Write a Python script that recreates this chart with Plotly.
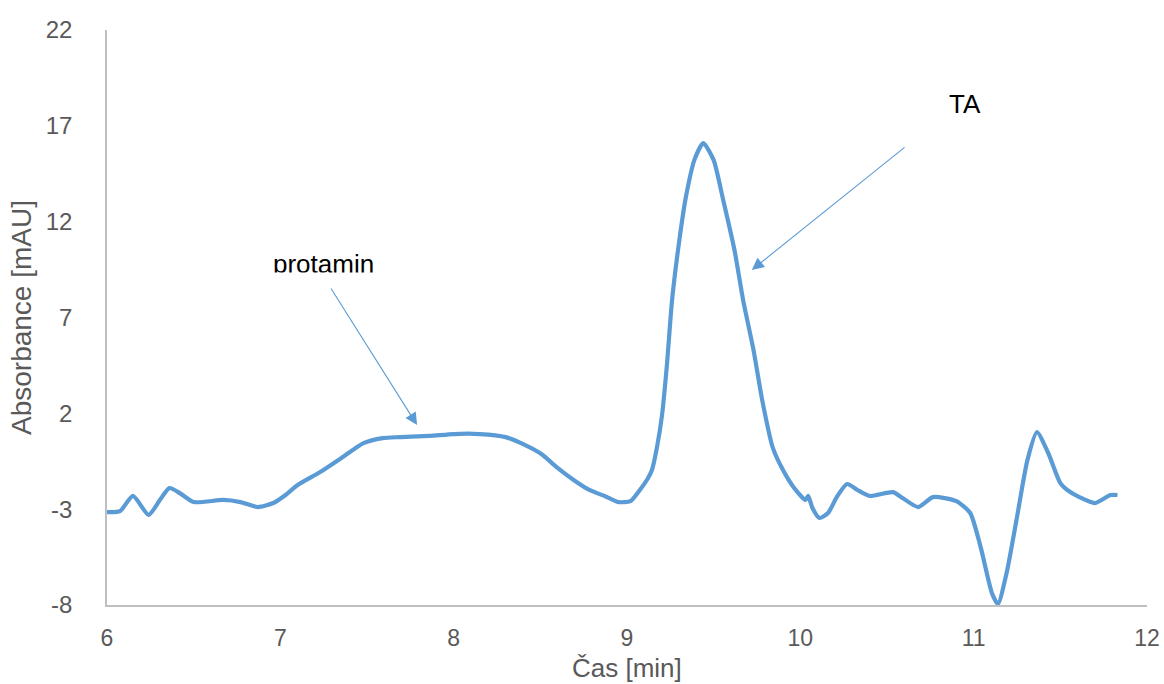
import plotly.graph_objects as go

# Chromatogram trace: retention time [min] vs absorbance [mAU]
time_min = [
    6.000, 6.075, 6.150, 6.240, 6.305, 6.360, 6.420, 6.500, 6.670, 6.770,
    6.870, 6.960, 7.030, 7.100, 7.230, 7.360, 7.480, 7.590, 7.690, 7.860,
    8.000, 8.150, 8.300, 8.410, 8.510, 8.590, 8.690, 8.780, 8.880, 8.950,
    9.020, 9.070, 9.120, 9.144, 9.173, 9.202, 9.230, 9.260, 9.300, 9.340,
    9.390, 9.440, 9.500, 9.555, 9.620, 9.670, 9.730, 9.780, 9.840, 9.900,
    9.960, 10.030, 10.045, 10.070, 10.110, 10.160, 10.210, 10.270, 10.330, 10.400,
    10.535, 10.590, 10.680, 10.765, 10.900, 10.980, 11.040, 11.105, 11.140, 11.190,
    11.250, 11.310, 11.365, 11.430, 11.500, 11.540, 11.610, 11.700, 11.790, 11.830,
]
absorbance = [
    -3.15, -3.10, -2.31, -3.30, -2.52, -1.90, -2.16, -2.63, -2.52, -2.63,
    -2.89, -2.68, -2.26, -1.74, -1.06, -0.28, 0.45, 0.71, 0.76, 0.82,
    0.92, 0.92, 0.76, 0.35, -0.15, -0.78, -1.46, -1.98, -2.35, -2.63,
    -2.58, -2.05, -1.40, -0.96, 0.24, 1.90, 4.50, 7.91, 10.90, 13.30,
    15.25, 16.10, 15.21, 13.13, 10.52, 7.91, 5.30, 2.69, 0.24, -0.96,
    -1.84, -2.52, -2.30, -2.94, -3.46, -3.20, -2.37, -1.69, -2.00, -2.31,
    -2.11, -2.42, -2.89, -2.37, -2.58, -3.20, -4.97, -7.37, -7.95, -6.33,
    -3.41, -0.44, 1.02, -0.07, -1.64, -2.00, -2.37, -2.68, -2.26, -2.26,
]

# Axis ticks
x_ticks = [6, 7, 8, 9, 10, 11, 12]
y_ticks = [-8, -3, 2, 7, 12, 17, 22]

# Peak labels: text, text position, arrow head (x, y) and arrow tail (x, y)
peak_labels = ["protamin", "TA"]
label_x = [7.249, 10.950]
label_y = [9.790, 18.130]
head_x = [7.789, 9.720]
head_y = [1.390, 9.480]
tail_x = [7.287, 10.610]
tail_y = [8.590, 15.940]

blue = "#5B9BD5"
grey_text = "#595959"
axis_grey = "#BFBFBF"
font_family = "Liberation Sans, Arial, sans-serif"

fig = go.Figure()
fig.add_trace(go.Scatter(
    x=time_min, y=absorbance, mode="lines",
    line=dict(color=blue, width=4.2, shape="spline", smoothing=0.6),
    showlegend=False, hoverinfo="skip",
))

for text, lx, ly, hx, hy, tx, ty in zip(peak_labels, label_x, label_y, head_x, head_y, tail_x, tail_y):
    fig.add_annotation(
        x=hx, y=hy, ax=tx, ay=ty, xref="x", yref="y", axref="x", ayref="y",
        showarrow=True, arrowhead=2, arrowsize=2.2, arrowwidth=1.1, arrowcolor=blue,
        text="",
    )
    fig.add_annotation(
        x=lx, y=ly, xref="x", yref="y", text=text, showarrow=False,
        font=dict(family=font_family, size=26, color="#000000"),
        xanchor="center", yanchor="middle",
    )

# The "protamin" text box is cut off just below its baseline
fig.add_annotation(
    x=7.249, y=9.37, xref="x", yref="y", text=" ", showarrow=False,
    width=130, height=9, bgcolor="white", borderpad=0,
    xanchor="center", yanchor="top",
)

# X axis title, placed below the tick labels
fig.add_annotation(
    x=0.5, y=-0.1096, xref="paper", yref="paper", text="Čas [min]", showarrow=False,
    font=dict(family=font_family, size=26, color=grey_text),
    xanchor="center", yanchor="middle", borderpad=0,
)

fig.update_layout(
    width=1164, height=684,
    margin=dict(l=107, r=17, t=30, b=79, autoexpand=False),
    plot_bgcolor="white", paper_bgcolor="white",
    font=dict(family=font_family, color=grey_text),
    xaxis=dict(
        range=[6, 12], tickvals=x_ticks, ticktext=[str(v) for v in x_ticks],
        showgrid=False, zeroline=False, showline=True, linecolor=axis_grey, linewidth=1.5,
        ticks="", ticklabelstandoff=12, automargin=False,
        tickfont=dict(family=font_family, size=23, color=grey_text),
    ),
    yaxis=dict(
        range=[-8, 22], tickvals=y_ticks, ticktext=[str(v) for v in y_ticks],
        showgrid=False, zeroline=False, showline=True, linecolor=axis_grey, linewidth=1.5,
        ticks="", ticklabelstandoff=28, automargin=False,
        tickfont=dict(family=font_family, size=24, color=grey_text),
        title=dict(text="Absorbance [mAU]", font=dict(family=font_family, size=28, color=grey_text), standoff=6),
    ),
)

fig.write_html("out.html")
